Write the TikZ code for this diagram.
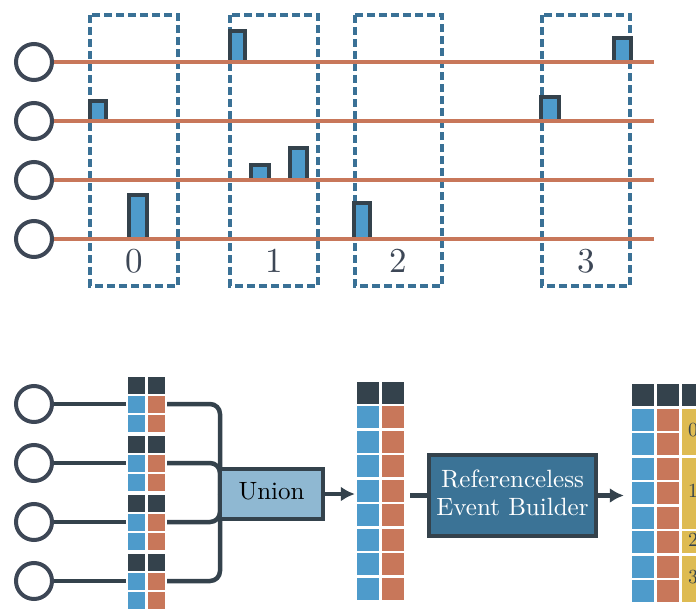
\documentclass[tikz,border=0pt]{standalone}
\usepackage{amssymb}
\usepackage{amsmath}
\usepackage{graphicx}
\usepackage{tikz}
\usetikzlibrary{arrows.meta}

\definecolor{ink}{HTML}{34424C}
\definecolor{ringc}{HTML}{3D4756}
\definecolor{chanblue}{HTML}{4E9BCB}
\definecolor{chanred}{HTML}{C8775A}
\definecolor{winblue}{HTML}{3A7196}
\definecolor{unionblue}{HTML}{8FB8D2}
\definecolor{rebblue}{HTML}{3B7396}
\definecolor{tagyellow}{HTML}{DEBB52}

\newcommand{\magtext}[2]{\scalebox{#1}{\raisebox{-1.1pt}{\fontsize{10}{11.2}\selectfont\begin{tabular}{@{}c@{}}#2\end{tabular}}}}

\begin{document}
\begin{tikzpicture}[x=1pt,y=-1pt]
            \tikzstyle{ring}=[circle,draw=ringc,line width=4pt,fill=white,minimum size=36pt,inner sep=0pt]
            \tikzstyle{wire}=[draw=ink,line width=4.5pt]
            \tikzstyle{window}=[draw=winblue,line width=3.5pt,dash pattern=on 8pt off 4pt]
            \tikzstyle{hit}=[draw=ink,line width=3.5pt,fill=chanblue]
            \tikzstyle{cell}=[rectangle,inner sep=0pt,minimum size=17pt]
            \tikzstyle{bigcell}=[rectangle,inner sep=0pt,minimum size=22pt]
            \tikzstyle{block}=[rectangle,draw=ink,line width=4pt,inner sep=0pt,align=center]

            \useasboundingbox (0,0) rectangle (696,610);

            % time windows
            \foreach \num/\xa/\xb in {0/90/178, 1/230/318, 2/355/442, 3/542/630} {
                    \draw[window] (\xa,15) rectangle (\xb,286);
                    \node[text=ringc,inner sep=0pt] (W-\num) at ({(\xa+\xb)/2},265) {\magtext{3.5}{\num}};
            }

            % hits on the channels
            \foreach \xa/\xb/\top/\y in {230/245/31/62, 90/106/101/121, 251/269/165/180, 290/307/148/180,
                                         129/147/195/239, 614/631/38/62, 541/559/97/121, 354/370/203/239}
                    \draw[hit] (\xa,\y) rectangle (\xb,\top);

            \foreach \num/\y in {1/62, 2/121, 3/180, 4/239} {
                    \node[ring] (S-\num) at (34,\y) {};
                    \coordinate (E-\num) at (654,\y);
                    \draw[chanred,line width=4.5pt] (S-\num) -- (E-\num);
            }

            % per channel buffers
            \foreach \k in {0,...,3} {
                    \node[ring] (C-\k) at (34,404+59*\k) {};
                    \node[cell,fill=ink] (D-\k-a) at (136.5,385+59*\k) {};
                    \node[cell,fill=ink] (D-\k-b) at (156.5,385+59*\k) {};
                    \foreach \r in {1,2} {
                            \node[cell,fill=chanblue] (A-\k-\r) at (136.5,385+59*\k+19*\r) {};
                            \node[cell,fill=chanred] (B-\k-\r) at (156.5,385+59*\k+19*\r) {};
                    }
                    \draw[wire,shorten >=1.5pt] (C-\k) -- (A-\k-1.west);
            }

            \coordinate (U-in) at (220,494);
            \foreach \k in {0,...,3}
                    \draw[wire,rounded corners=10pt] ([xshift=2pt]B-\k-1.east) -| (U-in);

            \node[block,fill=unionblue,minimum width=103pt,minimum height=50pt] (union) at (271.5,494) {\magtext{2.5}{Union}};

            % merged buffer
            \node[bigcell,fill=ink] (M-a-0) at (368,392.5) {};
            \node[bigcell,fill=ink] (M-b-0) at (393,392.5) {};
            \foreach \r in {1,...,8} {
                    \node[bigcell,fill=chanblue] (M-a-\r) at (368,392.5+24.5*\r) {};
                    \node[bigcell,fill=chanred] (M-b-\r) at (393,392.5+24.5*\r) {};
            }
            \draw[wire,-{Latex[length=14pt,width=15pt]},shorten >=2pt] (union.east) -- (union.east -| M-a-1.west);

            \node[block,fill=rebblue,text=white,minimum width=167pt,minimum height=81pt] (reb) at (512.5,495.5) {\magtext{2.5}{Referenceless\\Event Builder}};
            \draw[wire,shorten <=6pt] (reb.west -| M-b-1.east) -- (reb.west);

            % tagged events
            \node[bigcell,fill=ink] (R-a-0) at (643,395) {};
            \node[bigcell,fill=ink] (R-b-0) at (668,395) {};
            \node[bigcell,fill=ink] (R-c-0) at (693,395) {};
            \foreach \r in {1,...,8} {
                    \node[bigcell,fill=chanblue] (R-a-\r) at (643,395+24.5*\r) {};
                    \node[bigcell,fill=chanred] (R-b-\r) at (668,395+24.5*\r) {};
            }
            \foreach \num/\i/\j in {0/1/2, 1/3/5, 2/6/6, 3/7/8}
                    \node[bigcell,fill=tagyellow,text=ink,minimum height={24.5*(\j-\i)+22}] (T-\num) at (693,{395+24.5*(\i+\j)/2}) {\magtext{2}{\num}};
            \draw[wire,-{Latex[length=14pt,width=15pt]},shorten >=8pt] (reb.east) -- (reb.east -| R-a-1.west);
\end{tikzpicture}
\end{document}
